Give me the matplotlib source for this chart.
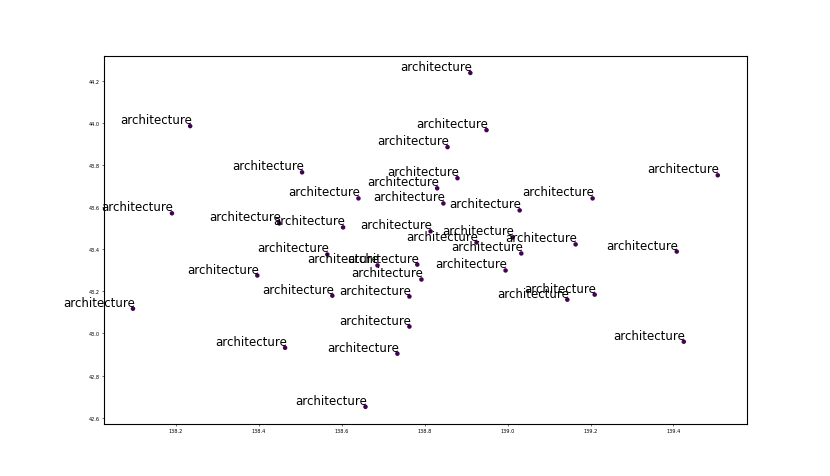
import matplotlib.pyplot as plt
import numpy as np

# longitude / latitude of each point
lon = np.array([138.910, 138.234, 138.949, 138.855, 138.504, 138.879, 139.507, 138.830,
                138.640, 138.845, 139.205, 138.190, 139.029, 138.449, 138.603, 138.814,
                138.925, 139.012, 139.164, 138.565, 138.686, 138.782, 138.792, 138.995,
                139.033, 138.396, 138.577, 138.763, 139.144, 139.210, 138.763, 138.463,
                138.734, 138.657, 139.425, 139.408, 138.096])
lat = np.array([44.240, 43.987, 43.968, 43.887, 43.767, 43.739, 43.753, 43.691,
                43.643, 43.619, 43.643, 43.572, 43.586, 43.524, 43.505, 43.486,
                43.433, 43.457, 43.424, 43.376, 43.324, 43.328, 43.257, 43.300,
                43.381, 43.276, 43.180, 43.176, 43.161, 43.185, 43.033, 42.932,
                42.904, 42.651, 42.961, 43.390, 43.118])
labels = ['architecture'] * len(lon)

plt.figure(figsize=(8.3, 4.77), dpi=100)

plt.scatter(lon, lat, c=np.zeros(len(lon)), cmap='viridis', s=5)

for x, y, t in zip(lon, lat, labels):
    plt.text(x + 0.004, y, t, ha='right', va='bottom', fontsize=8.5)

plt.tick_params(labelsize=3.6, length=1.5, width=0.4, pad=1.5)

plt.savefig('out.png', dpi=100)
